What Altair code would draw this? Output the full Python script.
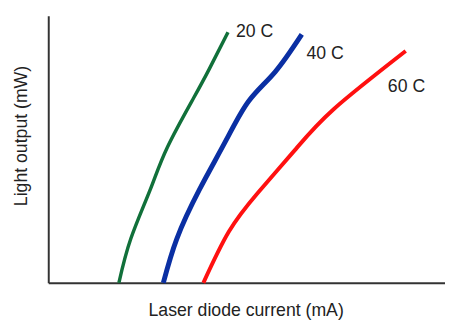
import altair as alt
import pandas as pd

# Curve points (x: current, y: light output, arbitrary units 0-100)
green_x = [17.8, 20.8, 25.7, 30.0, 36.6, 40.6, 45.3]
green_y = [0.0, 16.5, 34.9, 50.7, 69.1, 80.1, 93.8]
blue_x = [29.0, 32.4, 38.1, 44.8, 50.5, 57.2, 63.9]
blue_y = [0.0, 16.5, 34.9, 53.3, 68.0, 79.0, 93.0]
red_x = [39.1, 45.5, 52.9, 62.1, 72.0, 90.1]
red_y = [0.0, 19.1, 33.8, 49.6, 65.1, 86.8]

series_names = ["20 C", "40 C", "60 C"]
series_colors = ["#11703a", "#0a2fa3", "#ff1010"]
series_widths = [3.5, 5, 4]

label_x = [47.3, 65.1, 85.6]
label_y = [93.8, 85.7, 73.2]

rows = []
for name, xs, ys in zip(series_names, [green_x, blue_x, red_x], [green_y, blue_y, red_y]):
    for i, (a, b) in enumerate(zip(xs, ys)):
        rows.append({"series": name, "x": a, "y": b, "order": i})
df = pd.DataFrame(rows)
labels = pd.DataFrame({"series": series_names, "x": label_x, "y": label_y})

xscale = alt.Scale(domain=[0, 100], nice=False, zero=False)
yscale = alt.Scale(domain=[0, 100], nice=False, zero=False)

layers = []
for name, col, w in zip(series_names, series_colors, series_widths):
    layers.append(
        alt.Chart(df[df.series == name])
        .mark_line(color=col, strokeWidth=w, interpolate="natural")
        .encode(
            x=alt.X("x:Q", scale=xscale,
                    axis=alt.Axis(title="Laser diode current (mA)", ticks=False, labels=False,
                                  grid=False, domainColor="#333333", domainWidth=2,
                                  titleFont="Liberation Sans", titleFontSize=18,
                                  titleFontWeight="normal", titleColor="#222222",
                                  titleX=201, titleY=28, titleAlign="center",
                                  titleBaseline="middle")),
            y=alt.Y("y:Q", scale=yscale,
                    axis=alt.Axis(title="Light output (mW)", ticks=False, labels=False,
                                  grid=False, domainColor="#333333", domainWidth=2,
                                  titleFont="Liberation Sans", titleFontSize=18,
                                  titleFontWeight="normal", titleColor="#222222",
                                  titleX=-27, titleY=122, titleAngle=-90,
                                  titleAlign="center", titleBaseline="middle")),
            order="order:Q",
        )
    )

text = alt.Chart(labels).mark_text(
    align="left", baseline="middle", font="Liberation Sans", fontSize=18, color="#222222"
).encode(x=alt.X("x:Q", scale=xscale), y=alt.Y("y:Q", scale=yscale), text="series:N")

chart = alt.layer(*layers, text).properties(
    width=404, height=272,
    autosize=alt.AutoSizeParams(type="none"),
    padding={"left": 41, "top": 5, "right": 0, "bottom": 36},
    background="white",
).configure_view(stroke=None)

chart.save("out.html", embed_options={"renderer": "svg", "actions": False})
